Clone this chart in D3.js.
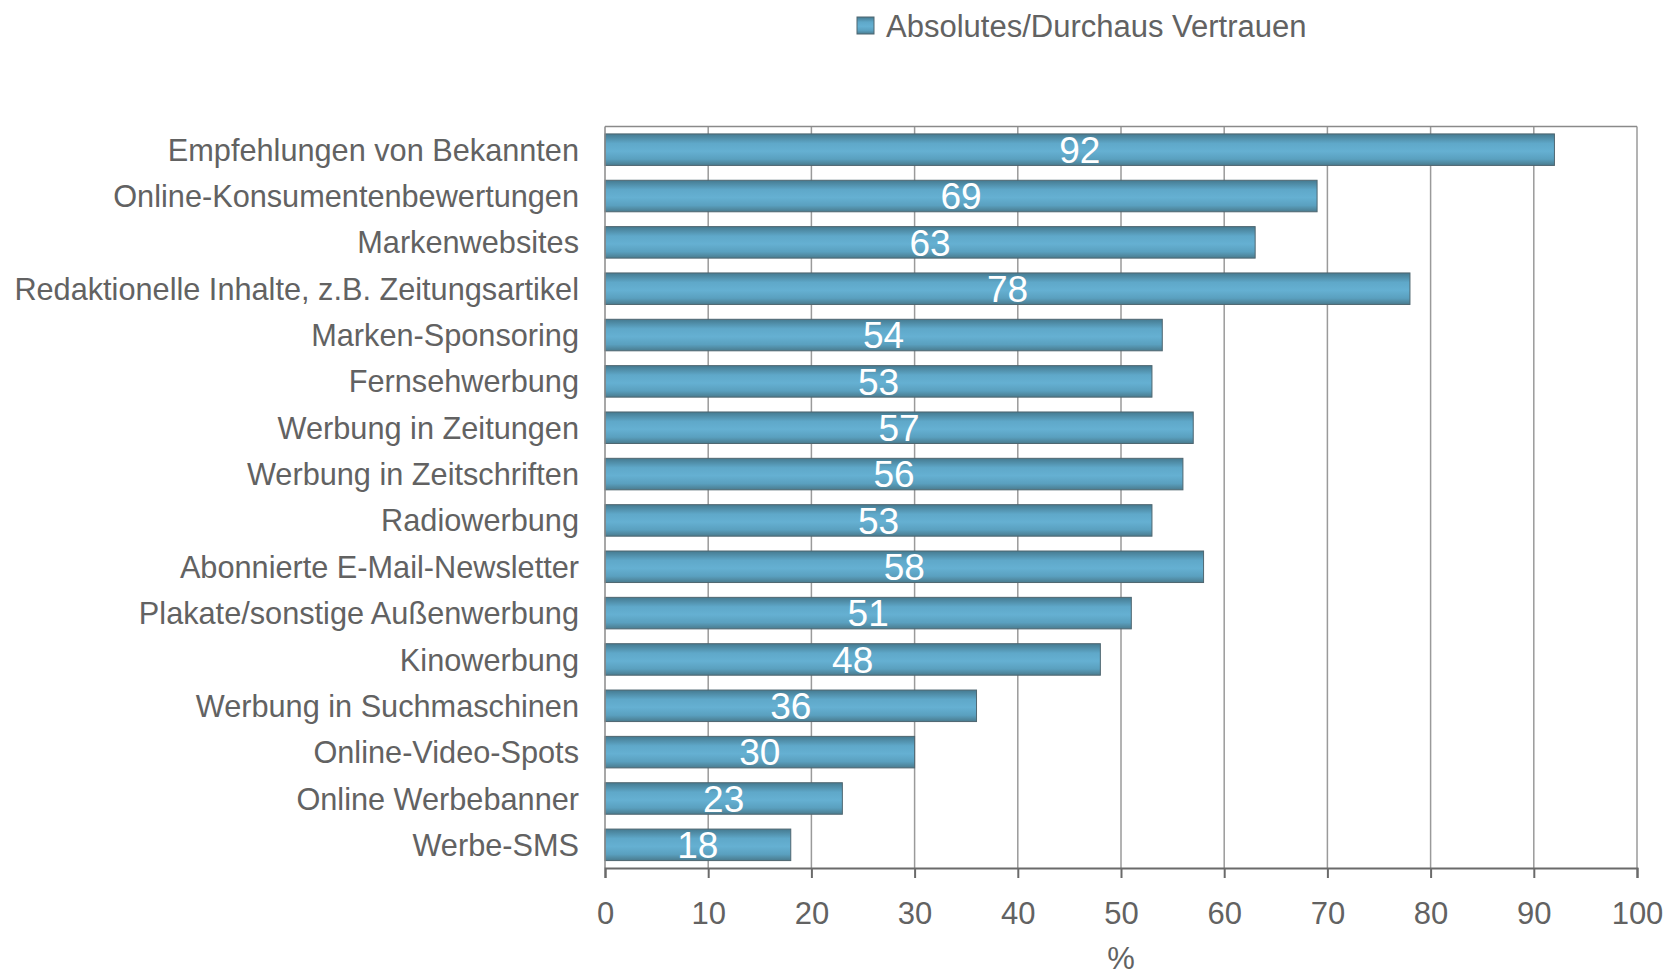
<!DOCTYPE html>
<html lang="de">
<head>
    <meta charset="UTF-8">
    <title>Vertrauen in Werbeformen</title>
    <script src="https://d3js.org/d3.v7.min.js"></script>
    <style>
        body { margin: 0; background: #fff; }
        text { font-family: "Liberation Sans", Arial, sans-serif; fill: #626262; }
        .cat-label { font-size: 30.7px; }
        .tick-label { font-size: 31px; }
        .value-label { font-size: 37px; fill: #fff; }
    </style>
</head>
<body>
    <div id="chart"></div>
    <script>
        // Daten
        const categories = [
            "Empfehlungen von Bekannten",
            "Online-Konsumentenbewertungen",
            "Markenwebsites",
            "Redaktionelle Inhalte, z.B. Zeitungsartikel",
            "Marken-Sponsoring",
            "Fernsehwerbung",
            "Werbung in Zeitungen",
            "Werbung in Zeitschriften",
            "Radiowerbung",
            "Abonnierte E-Mail-Newsletter",
            "Plakate/sonstige Außenwerbung",
            "Kinowerbung",
            "Werbung in Suchmaschinen",
            "Online-Video-Spots",
            "Online Werbebanner",
            "Werbe-SMS"
        ];
        const values = [92, 69, 63, 78, 54, 53, 57, 56, 53, 58, 51, 48, 36, 30, 23, 18];
        const xTicks = [0, 10, 20, 30, 40, 50, 60, 70, 80, 90, 100];
        const seriesName = "Absolutes/Durchaus Vertrauen";
        const axisTitle = "%";

        const width = 1668, height = 976;
        const plot = { left: 605, right: 1637, top: 126.5, bottom: 868 };

        const svg = d3.select("#chart").append("svg")
            .attr("width", width)
            .attr("height", height);

        // Verlauf für die Balken
        const defs = svg.append("defs");
        const grad = defs.append("linearGradient")
            .attr("id", "barGrad")
            .attr("x1", 0).attr("y1", 0).attr("x2", 0).attr("y2", 1);
        grad.append("stop").attr("offset", "0%").attr("stop-color", "#457a90");
        grad.append("stop").attr("offset", "30%").attr("stop-color", "#5fa8c9");
        grad.append("stop").attr("offset", "55%").attr("stop-color", "#65b0d2");
        grad.append("stop").attr("offset", "80%").attr("stop-color", "#5aa0bf");
        grad.append("stop").attr("offset", "100%").attr("stop-color", "#4a7b8e");

        const x = d3.scaleLinear().domain([0, 100]).range([plot.left, plot.right]);
        const y = d3.scaleBand().domain(categories).range([plot.top, plot.bottom]).paddingInner(0.32).paddingOuter(0.16);

        // Gitterlinien
        svg.append("g").selectAll("line")
            .data(xTicks.slice(1))
            .join("line")
            .attr("x1", d => x(d)).attr("x2", d => x(d))
            .attr("y1", plot.top).attr("y2", plot.bottom)
            .attr("stroke", "#9a9a9a")
            .attr("stroke-width", 1.5);

        // Rahmen oben
        svg.append("line")
            .attr("x1", plot.left).attr("x2", plot.right)
            .attr("y1", plot.top).attr("y2", plot.top)
            .attr("stroke", "#8a8a8a").attr("stroke-width", 1.5);

        // Balken
        svg.append("g").selectAll("rect")
            .data(values)
            .join("rect")
            .attr("x", x(0))
            .attr("y", (d, i) => y(categories[i]))
            .attr("width", d => x(d) - x(0))
            .attr("height", y.bandwidth())
            .attr("fill", "url(#barGrad)")
            .attr("stroke", "#4f6670")
            .attr("stroke-width", 1);

        // Werte
        svg.append("g").selectAll("text")
            .data(values)
            .join("text")
            .attr("class", "value-label")
            .attr("x", d => x(d / 2))
            .attr("y", (d, i) => y(categories[i]) + y.bandwidth() / 2)
            .attr("dy", "0.36em")
            .attr("text-anchor", "middle")
            .text(d => d);

        // y-Achse (Linie) und Kategorien
        svg.append("line")
            .attr("x1", plot.left).attr("x2", plot.left)
            .attr("y1", plot.top).attr("y2", plot.bottom)
            .attr("stroke", "#8a8a8a").attr("stroke-width", 1.5);

        svg.append("g").selectAll("text")
            .data(categories)
            .join("text")
            .attr("class", "cat-label")
            .attr("x", plot.left - 26)
            .attr("y", d => y(d) + y.bandwidth() / 2)
            .attr("dy", "0.36em")
            .attr("text-anchor", "end")
            .text(d => d);

        // x-Achse
        const xAxis = svg.append("g")
            .attr("transform", `translate(0,${plot.bottom})`)
            .call(d3.axisBottom(x).tickValues(xTicks).tickSize(10).tickPadding(24));
        xAxis.select(".domain").attr("stroke", "#6a6a6a").attr("stroke-width", 2);
        xAxis.selectAll(".tick line").attr("stroke", "#6a6a6a").attr("stroke-width", 2);
        xAxis.selectAll(".tick text")
            .attr("class", "tick-label")
            .attr("font-family", null)
            .attr("font-size", null)
            .attr("fill", null);

        svg.append("text")
            .attr("class", "tick-label")
            .attr("x", (plot.left + plot.right) / 2)
            .attr("y", 958)
            .attr("dy", "0.36em")
            .attr("text-anchor", "middle")
            .text(axisTitle);

        // Legende
        const legend = svg.append("g").attr("transform", "translate(857,17)");
        legend.append("rect")
            .attr("width", 17).attr("height", 17)
            .attr("fill", "url(#barGrad)")
            .attr("stroke", "#4f6670");
        legend.append("text")
            .attr("class", "tick-label")
            .attr("x", 29)
            .attr("y", 8.5)
            .attr("dy", "0.36em")
            .text(seriesName);
    </script>
</body>
</html>
